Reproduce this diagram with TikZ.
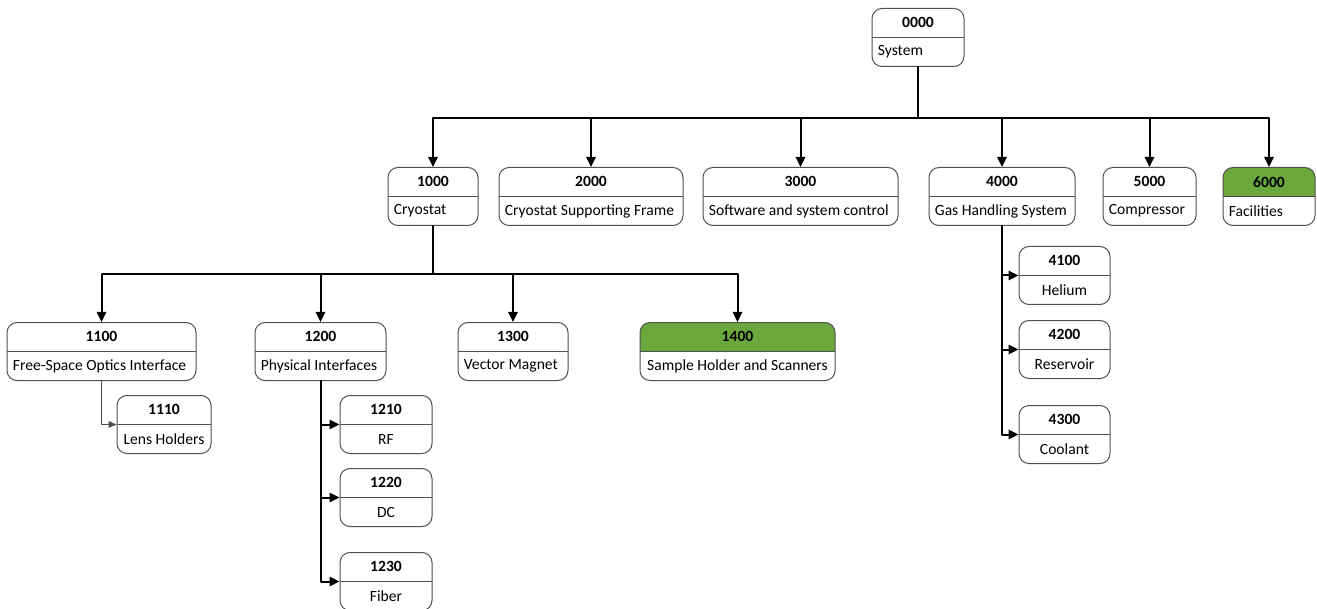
\documentclass[tikz,border=0pt]{standalone}
\usepackage{fontspec}
\setmainfont{Carlito}
\usetikzlibrary{arrows.meta}
\definecolor{boxgray}{HTML}{505050}
\definecolor{hdgreen}{HTML}{6AA83C}
% one box: name, centre x, top y, width, number, label, body anchor, extra style
\newcommand{\wbsbox}[8]{%
  \node[wbs,minimum width=#4*0.5pt,#8] (#1) at (#2,#3) {};
  \node[numtext] at (#1.north) {#5};
  \node[bodytext,anchor=#7] at (#1.#7) {#6};}

\begin{document}
\begin{tikzpicture}[line cap=round,line join=round,>={Triangle[length=5pt,width=4.6pt]},x=0.5pt,y=-0.5pt,
    wbs/.style={draw=boxgray,line width=0.5pt,rounded corners=5pt,fill=white,anchor=north,
      minimum height=29pt,inner sep=0pt,
      path picture={\draw[boxgray,line width=0.5pt] (path picture bounding box.west) -- (path picture bounding box.east);}},
    greenhead/.style={path picture={
      \fill[hdgreen,sharp corners] (path picture bounding box.north west) rectangle (path picture bounding box.east);
      \draw[boxgray,line width=0.5pt] (path picture bounding box.west) -- (path picture bounding box.east);}},
    numtext/.style={anchor=north,minimum height=14.5pt,inner sep=0pt,font=\fontsize{7.8}{9}\selectfont\bfseries},
    bodytext/.style={minimum height=14.5pt,inner xsep=3pt,inner ysep=0pt,font=\fontsize{7.8}{9}\selectfont},
    conn/.style={->,line width=1pt,black},
    thinconn/.style={-{Triangle[length=4pt,width=3.4pt]},line width=0.5pt,boxgray}]
  \useasboundingbox (0,0) rectangle (1317,609);
  % top level
  \wbsbox{s0000}{918}{8}{92}{0000}{System}{south west}{}
  \wbsbox{s1000}{433}{167}{90}{1000}{Cryostat}{south west}{}
  \wbsbox{s2000}{591}{167}{184}{2000}{Cryostat Supporting Frame}{south west}{}
  \wbsbox{s3000}{800.5}{167}{195}{3000}{Software and system control}{south west}{}
  \wbsbox{s4000}{1002}{167}{146}{4000}{Gas Handling System}{south west}{}
  \wbsbox{s5000}{1149.5}{167}{93}{5000}{Compressor}{south west}{}
  \wbsbox{s6000}{1269}{167}{92}{6000}{Facilities}{south west}{greenhead}
  % cryostat
  \wbsbox{s1100}{101.5}{322}{189}{1100}{Free-Space Optics Interface}{south west}{}
  \wbsbox{s1200}{320.5}{322}{131}{1200}{Physical Interfaces}{south west}{}
  \wbsbox{s1300}{513}{322}{110}{1300}{Vector Magnet}{south west}{}
  \wbsbox{s1400}{737.5}{322}{195}{1400}{Sample Holder and Scanners}{south}{greenhead}
  \wbsbox{s1110}{164}{395}{94}{1110}{Lens Holders}{south}{}
  \wbsbox{s1210}{386}{395}{92}{1210}{RF}{south}{}
  \wbsbox{s1220}{386}{468}{92}{1220}{DC}{south}{}
  \wbsbox{s1230}{386}{552}{92}{1230}{Fiber}{south}{}
  % gas handling
  \wbsbox{s4100}{1064.5}{246}{91}{4100}{Helium}{south}{}
  \wbsbox{s4200}{1064.5}{320}{91}{4200}{Reservoir}{south}{}
  \wbsbox{s4300}{1064.5}{405}{91}{4300}{Coolant}{south}{}
  % connectors
  \coordinate (bus0) at (918,118);
  \draw[conn,-] (s0000.south) -- (bus0);
  \foreach \c in {s1000,s2000,s3000,s4000,s5000,s6000}
    \draw[conn] (bus0) -| (\c.north);
  \coordinate (bus1) at (433,274);
  \draw[conn,-] (s1000.south) -- (bus1);
  \foreach \c in {s1100,s1200,s1300,s1400}
    \draw[conn] (bus1) -| (\c.north);
  \draw[thinconn] (s1100.south) |- (s1110.west);
  \foreach \c in {s1210,s1220,s1230}
    \draw[conn] (s1200.south) |- (\c.west);
  \foreach \c in {s4100,s4200,s4300}
    \draw[conn] (s4000.south) |- (\c.west);
\end{tikzpicture}
\end{document}
